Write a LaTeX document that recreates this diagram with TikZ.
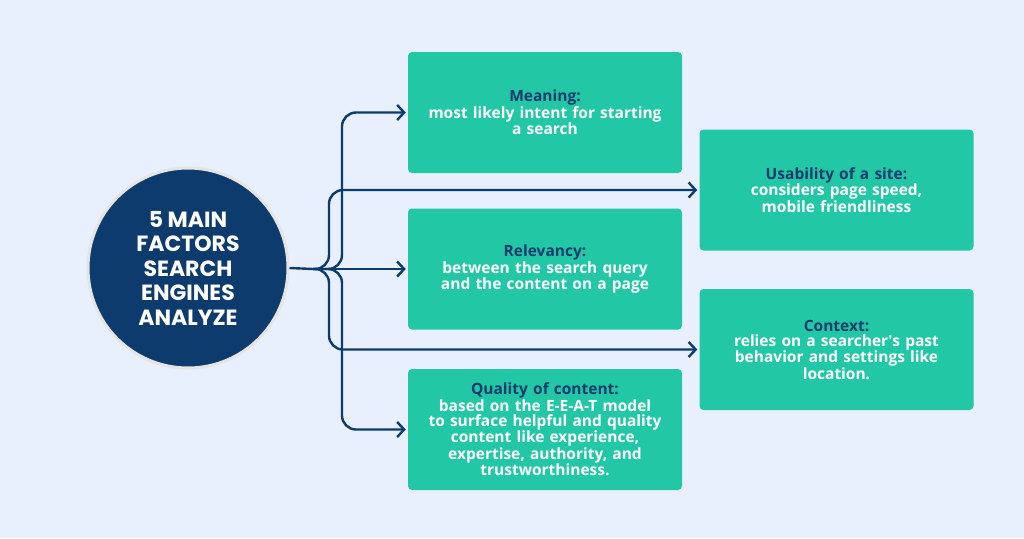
\documentclass[tikz,border=0pt]{standalone}
\usepackage{fontspec}
\setmainfont{Open Sans}
\newfontfamily\circfont{Poppins}
\newfontfamily\apfont{Open Sans}[Ligatures=TeXOff]
\usetikzlibrary{arrows.meta}
\definecolor{bg}{HTML}{E8F0FD}
\definecolor{tealbox}{HTML}{22C8A5}
\definecolor{navy}{HTML}{0D3B6E}
\newcommand{\apos}{{\apfont\bfseries'}}
\begin{document}
\begin{tikzpicture}[x=1pt,y=-1pt,
  box/.style={fill=tealbox, rounded corners=4pt, minimum width=274pt, minimum height=121pt,
    inner sep=0pt, text width=270pt, align=center,
    font=\fontsize{15.5}{15}\selectfont\bfseries, text=white},
  link/.style={draw=navy, line width=2.4pt, rounded corners=14pt,
    -{Straight Barb[length=7pt,width=15pt,line width=2.4pt]}, shorten >=2pt},
  plainlink/.style={draw=navy, line width=2.4pt}]
\fill[bg] (0,0) rectangle (1024,538);
\useasboundingbox (0,0) rectangle (1024,538);
% circle
\node[circle, fill=navy, draw=gray!20, line width=3pt, minimum size=200pt, inner sep=0pt,
  align=center, text=white, font=\circfont\fontsize{22}{24.5}\selectfont\bfseries] (c) at (188,268)
  {5 MAIN\\FACTORS\\SEARCH\\ENGINES\\ANALYZE};
% boxes
\node[box] (m) at (545,112.5) {{\color{navy}Meaning:}\\most likely intent for starting\\a search};
\node[box] (r) at (545,269) {{\color{navy}Relevancy:}\\between the search query\\and the content on a page};
\node[box] (q) at (545,429.5) {{\color{navy}Quality of content:}\\based on the E-E-A-T model\\to surface helpful and quality\\content like experience,\\expertise, authority, and\\trustworthiness.};
\node[box] (u) at (836.5,190) {{\color{navy}Usability of a site:}\\considers page speed,\\mobile friendliness};
\node[box] (x) at (836.5,349.5) {{\color{navy}Context:}\\relies on a searcher\apos s past\\behavior and settings like\\location.};
% connectors
\coordinate (br) at (313,269);
\draw[plainlink] (c.east) -- (br);
\draw[link] (br) -- ++(29,0) |- (m.west);
\draw[link] (br) -- ++(29,0) |- (q.west);
\draw[link] (br) -- ++(16,0) |- (u.west);
\draw[link] (br) -- ++(16,0) |- (x.west);
\draw[link] (br) -- (r.west);
\end{tikzpicture}
\end{document}
